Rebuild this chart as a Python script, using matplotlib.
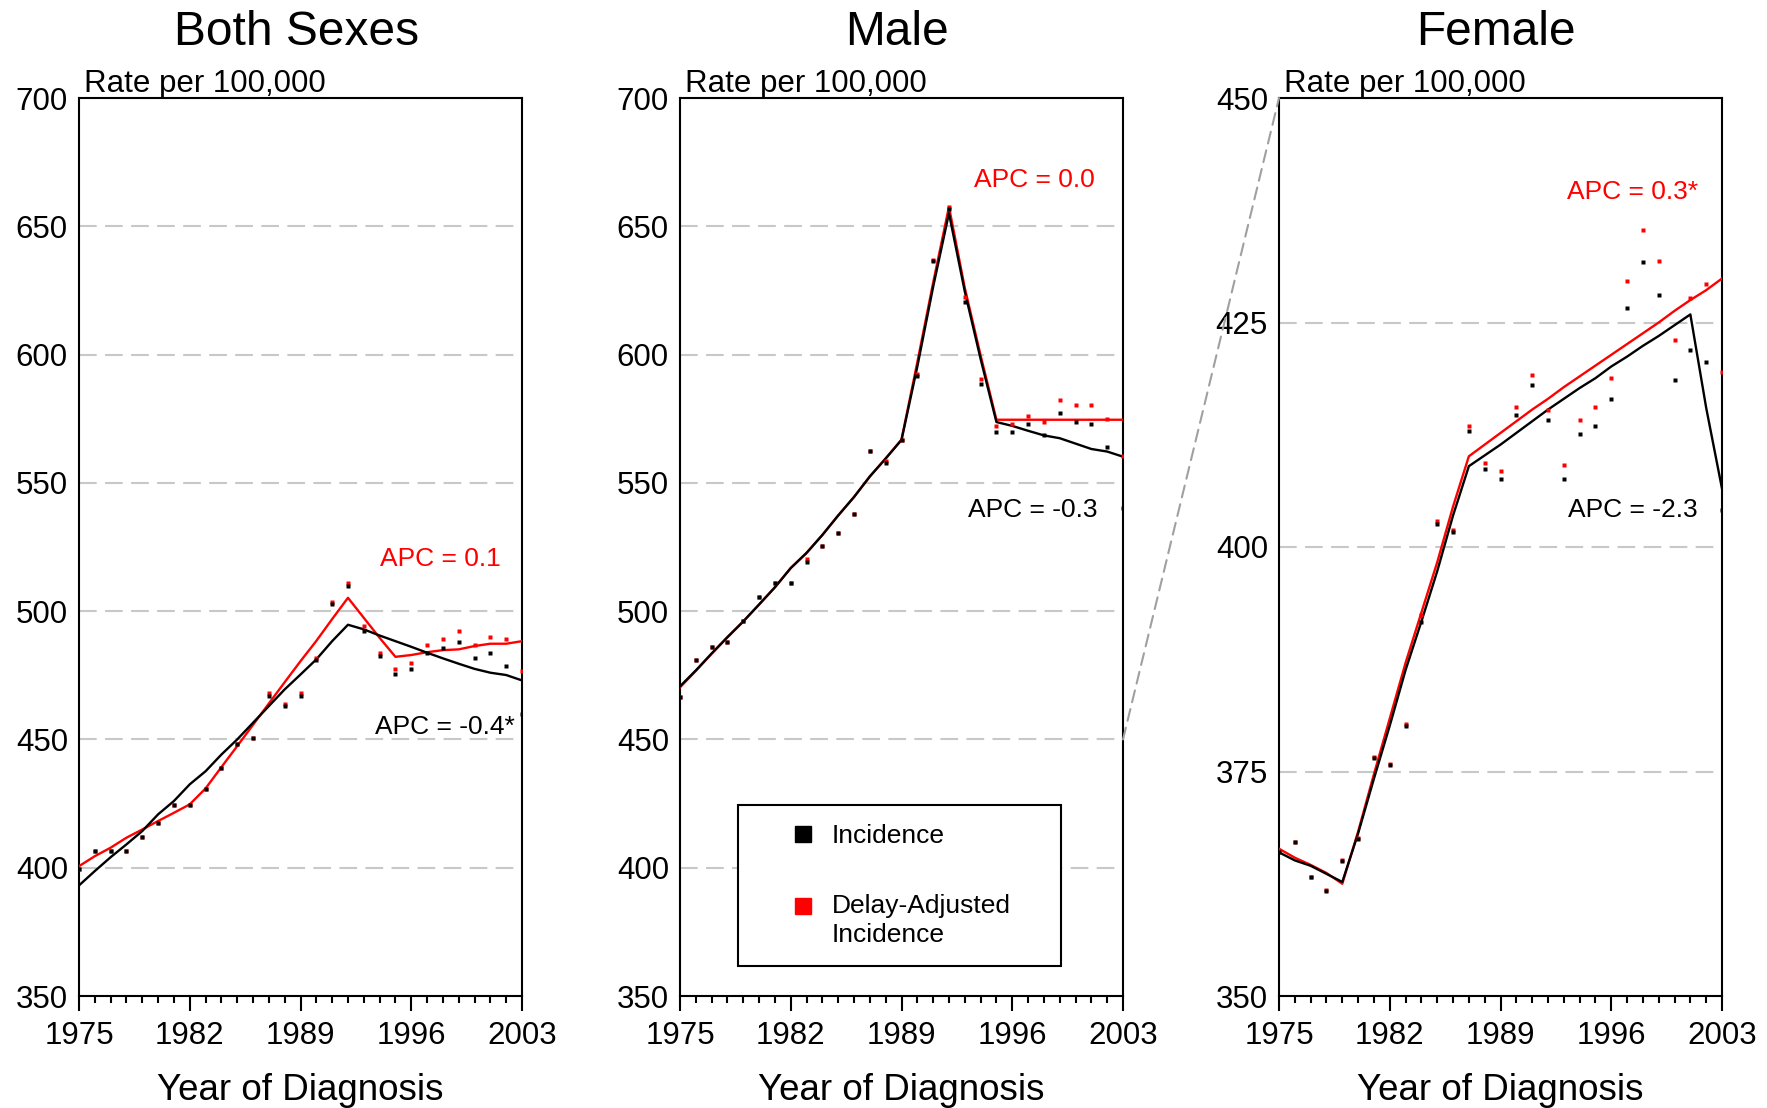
import matplotlib
matplotlib.use("Agg")
import matplotlib.pyplot as plt
import numpy as np
from matplotlib.lines import Line2D
from matplotlib.patches import ConnectionPatch
from matplotlib.ticker import MultipleLocator
from matplotlib.legend_handler import HandlerLine2D

plt.rcParams['font.family'] = ['Liberation Sans', 'DejaVu Sans']

years = np.arange(1975, 2004)

# Both sexes
both_obs = [399.6, 406.7, 406.7, 406.7, 411.9, 417.3, 424.4, 424.4, 430.8, 438.9,
            448.4, 450.5, 467.1, 463.0, 467.1, 480.9, 502.6, 509.7, 492.2, 482.7,
            475.4, 477.5, 483.8, 485.8, 487.9, 481.7, 483.8, 478.6, 459.9]
both_obs_adj = [399.6, 406.7, 406.7, 406.7, 411.9, 417.3, 424.4, 424.4, 430.8, 438.9,
                448.4, 450.5, 468.0, 464.0, 468.0, 481.8, 503.5, 510.8, 494.2, 483.8,
                477.5, 479.6, 486.9, 489.0, 492.1, 486.9, 490.0, 489.0, 476.5]
both_fit = [393.1, 398.7, 404.1, 409.1, 414.3, 420.8, 426.0, 432.5, 437.6, 444.1,
            450.0, 456.5, 463.0, 469.5, 475.3, 481.2, 488.3, 494.7, 492.9, 490.5,
            488.3, 486.1, 483.8, 481.6, 479.5, 477.5, 476.0, 475.1, 473.0]
both_fit_adj = [400.6, 404.5, 407.8, 411.7, 414.9, 418.2, 421.4, 424.7, 430.9, 439.2,
                447.4, 455.7, 464.0, 472.3, 480.5, 488.4, 496.9, 505.2, 497.4, 489.6,
                482.2, 482.9, 484.0, 484.8, 485.1, 486.4, 487.3, 487.3, 488.3]

# Male
male_obs = [466.6, 480.9, 486.0, 488.1, 496.3, 505.7, 510.8, 510.8, 519.3, 525.4,
            530.5, 537.7, 562.5, 557.8, 566.7, 591.8, 636.3, 656.8, 620.5, 588.6,
            569.9, 569.9, 572.9, 568.5, 577.1, 573.9, 572.9, 563.8, 540.1]
male_obs_adj = [466.6, 480.9, 486.0, 488.1, 496.3, 505.7, 510.8, 510.8, 520.2, 525.4,
                530.5, 537.7, 562.5, 558.4, 566.7, 592.5, 637.0, 657.6, 622.5, 590.5,
                572.0, 572.9, 576.1, 573.9, 582.3, 580.3, 580.3, 575.0, 560.6]
male_fit = [470.7, 476.9, 483.5, 489.9, 496.0, 502.6, 509.3, 516.8, 522.7, 529.7,
            537.3, 544.5, 552.5, 559.5, 566.7, 595.3, 626.4, 655.1, 624.6, 598.3,
            573.7, 572.2, 570.3, 568.5, 567.4, 565.3, 563.2, 562.2, 560.2]
male_fit_adj = [470.3, 476.7, 483.4, 489.8, 496.0, 502.6, 509.3, 516.8, 522.7, 529.7,
                537.3, 544.5, 552.5, 559.5, 566.9, 597.0, 628.0, 657.6, 626.0, 599.7,
                574.6, 574.6, 574.6, 574.6, 574.6, 574.6, 574.6, 574.6, 574.6]

# Female
female_obs = [366.0, 367.1, 363.2, 361.7, 365.0, 367.5, 376.5, 375.7, 380.1, 391.7,
              402.6, 401.7, 412.9, 408.7, 407.6, 414.7, 418.0, 414.1, 407.6, 412.6,
              413.5, 416.5, 426.6, 431.7, 428.1, 418.6, 421.9, 420.6, 404.1]
female_obs_adj = [366.1, 367.2, 363.3, 361.8, 365.1, 367.6, 376.6, 375.8, 380.3, 392.4,
                  402.9, 401.9, 413.5, 409.4, 408.5, 415.6, 419.2, 415.3, 409.1, 414.1,
                  415.6, 418.8, 429.6, 435.3, 431.9, 423.1, 427.7, 429.3, 419.5]
female_fit = [366.0, 365.1, 364.5, 363.6, 362.7, 368.1, 374.2, 380.1, 386.3, 391.7,
              397.3, 403.5, 409.0, 410.2, 411.4, 412.7, 414.0, 415.3, 416.5, 417.7,
              418.8, 420.1, 421.2, 422.4, 423.5, 424.7, 425.9, 415.5, 406.5]
female_fit_adj = [366.4, 365.4, 364.6, 363.7, 362.5, 368.3, 374.7, 380.9, 387.1, 392.7,
                  398.3, 404.5, 410.1, 411.4, 412.7, 414.0, 415.3, 416.5, 417.8, 419.0,
                  420.2, 421.4, 422.6, 423.8, 425.0, 426.3, 427.5, 428.6, 429.9]

titles = ["Both Sexes", "Male", "Female"]
apc_adj = ["APC = 0.1", "APC = 0.0", "APC = 0.3*"]
apc_obs = ["APC = -0.4*", "APC = -0.3", "APC = -2.3"]
xticks = [1975, 1982, 1989, 1996, 2003]
yticks_all = [np.arange(350, 701, 50), np.arange(350, 701, 50), np.arange(350, 451, 25)]

panels = [
    (both_obs, both_obs_adj, both_fit, both_fit_adj),
    (male_obs, male_obs_adj, male_fit, male_fit_adj),
    (female_obs, female_obs_adj, female_fit, female_fit_adj),
]


class TopHandler(HandlerLine2D):
    # put the marker next to the first line of a two-line label
    def create_artists(self, legend, orig_handle, xdescent, ydescent, width,
                       height, fontsize, trans):
        arts = super().create_artists(legend, orig_handle, xdescent, ydescent,
                                      width, height, fontsize, trans)
        for a in arts:
            a.set_ydata([y + 0.55 * fontsize for y in a.get_ydata()])
        return arts


fig = plt.figure(figsize=(17.67, 11.08), dpi=100)
lefts = [79 / 1767, 680 / 1767, 1279 / 1767]
# label positions (axes fraction)
pos_adj = [(0.815, 0.487), (0.799, 0.909), (0.799, 0.895)]
pos_obs = [(0.826, 0.300), (0.796, 0.541), (0.799, 0.541)]

axes = []
for i, (obs, obs_adj, fit, fit_adj) in enumerate(panels):
    ax = fig.add_axes([lefts[i], 1 - 996 / 1108, 443 / 1767, 898 / 1108])
    axes.append(ax)
    yt = yticks_all[i]

    ax.plot(years, fit_adj, color='#ff0000', lw=1.7, zorder=3)
    ax.plot(years, fit, color='black', lw=1.7, zorder=4)
    ax.plot(years, obs_adj, 's', color='#ff0000', ms=2.4, mec='none', zorder=5)
    ax.plot(years, obs, 's', color='black', ms=2.4, mec='none', zorder=6)

    ax.set_xlim(1975, 2003)
    ax.set_ylim(yt[0], yt[-1])
    ax.set_yticks(yt)
    ax.set_xticks(xticks)
    ax.xaxis.set_minor_locator(MultipleLocator(1))
    ax.yaxis.grid(True, color='#c8c8c8', linestyle=(0, (8.5, 4)), linewidth=1.5)
    ax.set_axisbelow(True)

    ax.tick_params(axis='x', which='major', length=10.8, width=1.5, direction='out',
                   pad=7, labelsize=22.5)
    ax.tick_params(axis='x', which='minor', length=5, width=1.5, direction='out')
    ax.tick_params(axis='y', length=0, pad=8, labelsize=22.5)
    for sp in ax.spines.values():
        sp.set_linewidth(1.5)

    ax.set_title(titles[i], fontsize=34.5, pad=38, x=0.49)
    ax.set_xlabel("Year of Diagnosis", fontsize=26.5, labelpad=16)
    ax.text(0.012, 1.0072, "Rate per 100,000", transform=ax.transAxes,
            fontsize=22.5, ha='left', va='baseline')
    ax.text(*pos_adj[i], apc_adj[i], transform=ax.transAxes, fontsize=19,
            color='#ff0000', ha='center', va='center')
    ax.text(*pos_obs[i], apc_obs[i], transform=ax.transAxes, fontsize=19,
            color='black', ha='center', va='center')

# legend in the male panel
handles = [Line2D([], [], marker='s', color='black', linestyle='none', markersize=12),
           Line2D([], [], marker='s', color='#ff0000', linestyle='none', markersize=12)]
leg = axes[1].legend(handles, ["Incidence", "Delay-Adjusted\nIncidence"],
                     loc='upper left', bbox_to_anchor=(0.131, 0.038, 0.729, 0.1747),
                     mode='expand', borderaxespad=0, fontsize=19, frameon=True,
                     fancybox=False, edgecolor='black', framealpha=1,
                     borderpad=0.72, labelspacing=1.75, handlelength=3.45,
                     handletextpad=-0.62, handler_map={handles[1]: TopHandler()})
leg.get_frame().set_linewidth(1.5)
leg.get_texts()[1].set_linespacing(1.25)

# dashed connector from male panel to female panel
con = ConnectionPatch(xyA=(2003, 450), coordsA=axes[1].transData,
                      xyB=(1975, 450), coordsB=axes[2].transData,
                      color='#a0a0a0', linestyle=(0, (5.8, 3.4)), lw=1.5)
fig.add_artist(con)

fig.savefig("out.png", dpi=100)
